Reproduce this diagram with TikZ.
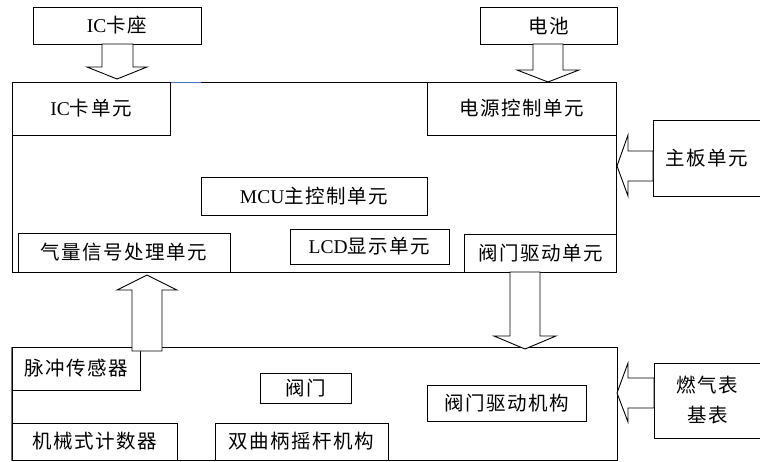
\documentclass[tikz,border=0pt]{standalone}
\usepackage{fontspec}
\setmainfont{Liberation Serif}
\newfontfamily\cjk[LetterSpace=8]{Noto Sans CJK SC}
\begin{document}
\begin{tikzpicture}[x=1pt,y=-1pt,
  box/.style={draw=black,line width=0.9pt,fill=white,inner sep=0pt,font=\fontsize{19.5}{22}\selectfont},
  frame/.style={draw=black,line width=1pt},
  barrow/.style={draw=black,line width=0.9pt,fill=white,line join=miter}]
\useasboundingbox (0,0) rectangle (760,461);
% main frames
\node[frame,minimum width=604pt,minimum height=190pt,inner sep=0pt] (top) at (314,177) {};
\node[frame,minimum width=605pt,minimum height=113pt,inner sep=0pt] (bot) at (314.5,403.5) {};
\draw[color={rgb,255:red,68;green,114;blue,196},line width=1pt] (162,82) -- (201,82);
\draw[color={rgb,255:red,68;green,114;blue,196},line width=1pt] (bot.north west) -- (bot.south west);
% outside boxes
\node[box,minimum width=168pt,minimum height=37pt] (icseat) at (117,25.5) {IC{\cjk 卡座}};
\node[box,minimum width=137pt,minimum height=37pt] (bat) at (548.5,25.5) {\cjk 电池};
\node[box,minimum width=108pt,minimum height=76pt] (mb) at (707,158) {\cjk 主板单元};
\node[box,minimum width=107pt,minimum height=75pt,align=center] (meter) at (707.5,400.5) {\cjk 燃气表\\[8pt]\cjk 基表};
% inner boxes top
\node[box,minimum width=158pt,minimum height=53pt] (icu) at (91,108.5) {IC{\cjk 卡单元}};
\node[box,minimum width=189pt,minimum height=53pt] (pwr) at (521.5,108.5) {\cjk 电源控制单元};
\node[box,minimum width=226pt,minimum height=38pt] (mcu) at (314,196) {MCU{\cjk 主控制单元}};
\node[box,minimum width=159pt,minimum height=35pt] (lcd) at (369.5,246.5) {LCD{\cjk 显示单元}};
\node[box,minimum width=212pt,minimum height=39pt] (gas) at (124,252.5) {\cjk 气量信号处理单元};
\node[box,minimum width=152pt,minimum height=38pt] (vdu) at (540.5,253) {\cjk 阀门驱动单元};
% inner boxes bottom
\node[box,minimum width=128pt,minimum height=43pt] (pulse) at (76,368.5) {\cjk 脉冲传感器};
\node[box,minimum width=91pt,minimum height=30pt] (valve) at (305.5,388) {\cjk 阀门};
\node[box,minimum width=165pt,minimum height=37pt] (cnt) at (94.5,441.5) {\cjk 机械式计数器};
\node[box,minimum width=173pt,minimum height=37pt] (crank) at (301.5,441.5) {\cjk 双曲柄摇杆机构};
\node[box,minimum width=159pt,minimum height=36pt] (vdm) at (506.5,403) {\cjk 阀门驱动机构};
% block arrows
\draw[barrow] (102,44) -- (133,44) -- (133,67) -- (147,67) -- (117,79) -- (87,67) -- (102,67) -- cycle;
\draw[barrow] (533,44) -- (563,44) -- (563,70) -- (579,70) -- (548,82) -- (517,70) -- (533,70) -- cycle;
\draw[barrow] (653,151) -- (628,151) -- (628,135) -- (617,166) -- (628,196) -- (628,181) -- (653,181) -- cycle;
\draw[barrow] (132,351) -- (162,351) -- (162,290) -- (177,290) -- (147,275) -- (117,290) -- (132,290) -- cycle;
\draw[barrow] (510,272) -- (540,272) -- (540,336) -- (556,336) -- (525,349) -- (494,336) -- (510,336) -- cycle;
\draw[barrow] (654,378) -- (628,378) -- (628,363) -- (617,393) -- (628,422) -- (628,408) -- (654,408) -- cycle;
\end{tikzpicture}
\end{document}
